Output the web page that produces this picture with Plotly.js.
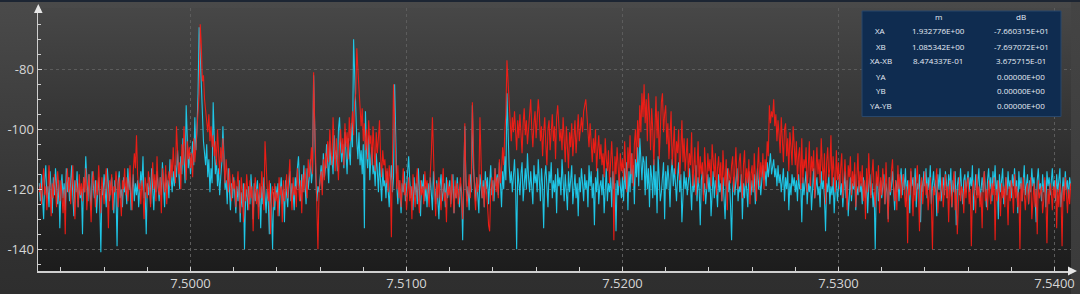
<!DOCTYPE html>
<html>
<head>
<meta charset="utf-8">
<script src="https://cdn.plot.ly/plotly-3.0.1.min.js"></script>
<style>
  html, body { margin:0; padding:0; background:#2f2f2f; overflow:hidden; }
  #wrap { position:relative; width:1080px; height:294px;
          background:linear-gradient(#4a4a4a 0%, #3c3c3c 45%, #313131 80%, #2e2e2e 100%);
          border-top:2px solid #1c2533; box-sizing:border-box; }
  #plotbg { position:absolute; left:38px; top:6px; width:1033px; height:263px;
            background:linear-gradient(#474747 0%, #363636 40%, #262626 75%, #1c1c1c 100%); }
  #strip { position:absolute; left:1071px; top:0; width:9px; height:294px;
           background:linear-gradient(#444 0%, #3a3a3a 100%); }
  #chart { position:absolute; left:0; top:-2px; width:1080px; height:294px; }
</style>
</head>
<body>
<div id="wrap">
  <div id="plotbg"></div>
  <div id="strip"></div>
  <div id="chart"></div>
</div>
<script>
// Frequency grid: first sample and spacing
const freqStart = 7.4930;
const freqStep = 0.00005;

// Trace A (red), dB
const traceA = [
-121,-118,-125,-116,-113,-122,-119,-127,-117,-112,-120,-129,-118,-123,-115,-121,-126,-114,-119,-124,
-117,-122,-128,-120,-135,-118,-113,-121,-116,-125,-119,-112,-123,-130,-117,-120,-126,-115,-122,-118,
-124,-116,-121,-113,-127,-119,-115,-123,-131,-118,-114,-120,-126,-117,-122,-112,-119,-128,-116,-121,
-125,-118,-113,-120,-133,-117,-122,-115,-127,-119,-121,-114,-118,-126,-116,-123,-129,-117,-120,-113,
-122,-116,-124,-119,-112,-121,-127,-114,-108,-113,-102,-115,-120,-118,-125,-117,-121,-130,-116,-119,
-123,-114,-118,-126,-117,-111,-120,-115,-124,-109,-119,-122,-116,-128,-113,-118,-121,-112,-125,-117,
-114,-119,-110,-116,-106,-113,-118,-99,-108,-115,-111,-120,-105,-112,-99,-109,-117,-104,-110,-106,
-113,-108,-116,-103,-111,-106,-100,-97,-88,-65,-72,-84,-82,-90,-93,-97,-101,-95,-104,-99,
-106,-102,-109,-104,-112,-100,-108,-115,-106,-111,-103,-113,-118,-110,-116,-121,-113,-119,-124,-115,
-120,-117,-126,-119,-114,-122,-128,-116,-121,-131,-118,-124,-115,-120,-127,-117,-123,-119,-134,-121,
-116,-125,-120,-130,-118,-123,-114,-121,-127,-104,-113,-119,-124,-117,-135,-122,-119,-126,-118,-124,
-121,-129,-116,-122,-119,-131,-117,-124,-120,-115,-123,-118,-110,-121,-127,-116,-122,-119,-126,-113,
-120,-124,-117,-128,-115,-121,-113,-118,-123,-110,-116,-112,-106,-115,-81,-98,-112,-124,-140,-121,
-118,-114,-122,-110,-117,-108,-113,-104,-111,-100,-107,-112,-96,-109,-114,-103,-110,-117,-105,-100,
-108,-103,-112,-98,-106,-101,-110,-96,-104,-99,-94,-102,-91,-88,-73,-80,-87,-95,-99,-93,
-104,-98,-107,-100,-110,-97,-105,-102,-112,-99,-106,-114,-101,-108,-103,-97,-109,-116,-107,-112,
-110,-118,-113,-121,-112,-117,-136,-104,-85,-98,-114,-120,-112,-123,-117,-126,-119,-113,-122,-118,
-127,-120,-116,-124,-119,-130,-115,-121,-126,-118,-113,-123,-128,-117,-122,-119,-125,-114,-120,-117,
-121,-126,-115,-108,-96,-112,-120,-129,-118,-123,-116,-122,-127,-119,-113,-124,-121,-131,-117,-122,
-119,-126,-115,-121,-128,-117,-123,-118,-125,-120,-116,-124,-130,-119,-98,-118,-126,-121,-115,-123,
-117,-91,-110,-122,-127,-116,-121,-118,-96,-114,-123,-119,-126,-117,-121,-125,-132,-134,-120,-116,
-124,-118,-113,-121,-116,-123,-110,-118,-114,-106,-112,-101,-95,-77,-84,-92,-98,-104,-96,-101,
-94,-99,-107,-97,-103,-95,-100,-108,-98,-93,-102,-97,-105,-99,-96,-90,-100,-106,-98,-94,
-103,-97,-90,-95,-104,-99,-109,-101,-96,-105,-112,-100,-97,-107,-102,-95,-104,-99,-110,-96,
-92,-98,-104,-100,-107,-96,-103,-111,-99,-105,-113,-101,-106,-98,-109,-103,-97,-108,-102,-95,
-104,-99,-96,-101,-94,-92,-90,-95,-100,-106,-98,-104,-111,-103,-108,-100,-114,-107,-102,-110,
-105,-112,-108,-116,-103,-110,-114,-107,-118,-111,-104,-113,-137,-109,-115,-106,-112,-119,-108,-114,
-110,-117,-104,-112,-121,-106,-113,-102,-115,-108,-119,-105,-100,-111,-97,-106,-92,-101,-88,-96,
-85,-98,-90,-104,-88,-95,-107,-93,-100,-112,-96,-89,-103,-94,-110,-99,-91,-88,-101,-95,
-92,-105,-98,-110,-101,-94,-112,-103,-99,-115,-104,-108,-100,-117,-106,-97,-111,-103,-114,-107,
-103,-116,-108,-112,-101,-119,-110,-106,-122,-113,-104,-118,-109,-115,-111,-124,-106,-113,-120,-108,
-114,-110,-119,-105,-112,-116,-108,-122,-113,-109,-117,-111,-124,-107,-115,-119,-110,-127,-113,-116,
-118,-112,-109,-121,-114,-106,-117,-120,-111,-108,-116,-123,-112,-107,-119,-113,-118,-110,-125,-115,
-112,-121,-108,-117,-124,-113,-106,-119,-111,-116,-108,-120,-110,-114,-104,-109,-92,-98,-94,-96,
-90,-99,-95,-104,-97,-102,-108,-96,-105,-111,-100,-98,-109,-103,-114,-101,-106,-112,-99,-108,
-112,-104,-117,-109,-106,-120,-103,-118,-110,-113,-106,-121,-110,-104,-119,-109,-114,-107,-123,-112,
-106,-115,-110,-118,-103,-112,-117,-108,-125,-111,-106,-116,-113,-102,-119,-109,-114,-121,-107,-117,
-111,-120,-113,-108,-123,-115,-110,-118,-127,-112,-116,-109,-122,-114,-119,-111,-126,-116,-108,-121,
-114,-119,-112,-124,-117,-130,-113,-121,-108,-118,-123,-115,-110,-120,-126,-114,-119,-112,-128,-116,
-122,-113,-118,-125,-111,-120,-131,-116,-121,-114,-110,-119,-124,-117,-127,-112,-120,-115,-123,-118,
-115,-121,-126,-119,-138,-117,-122,-113,-120,-129,-116,-124,-118,-112,-121,-134,-119,-116,-125,-120,
-114,-122,-118,-127,-120,-116,-125,-140,-119,-122,-117,-113,-128,-121,-124,-118,-116,-126,-120,-115,
-123,-119,-131,-117,-121,-126,-118,-114,-127,-120,-135,-122,-116,-124,-119,-121,-128,-117,-123,-118,
-116,-125,-120,-139,-121,-117,-122,-128,-115,-123,-119,-126,-121,-133,-118,-114,-124,-120,-127,-117,
-121,-125,-118,-122,-116,-137,-120,-124,-117,-121,-129,-118,-123,-119,-126,-116,-122,-132,-119,-124,
-117,-120,-128,-115,-123,-119,-126,-121,-140,-118,-124,-116,-122,-127,-120,-118,-125,-121,-116,-130,
-122,-118,-126,-120,-135,-117,-123,-121,-119,-128,-124,-116,-122,-138,-120,-125,-118,-121,-127,-119,
-123,-117,-133,-120,-126,-118,-122,-139,-119,-124,-116,-121,-128,-120,-125,-118
];

// Trace B (cyan), dB
const traceB = [
-118,-124,-115,-121,-130,-117,-112,-123,-119,-126,-114,-120,-128,-116,-122,-113,-119,-125,-117,-133,
-120,-115,-123,-118,-127,-113,-121,-116,-124,-119,-112,-122,-129,-117,-121,-114,-126,-118,-123,-120,
-135,-116,-121,-109,-118,-124,-115,-120,-127,-114,-119,-123,-117,-128,-121,-116,-125,-141,-119,-122,
-115,-120,-126,-113,-118,-124,-119,-116,-122,-128,-117,-121,-139,-118,-114,-123,-120,-126,-116,-121,
-119,-125,-113,-120,-116,-127,-121,-115,-124,-118,-122,-117,-126,-120,-114,-119,-109,-123,-121,-135,
-118,-122,-116,-125,-113,-120,-127,-117,-121,-114,-119,-124,-116,-122,-111,-118,-126,-115,-120,-117,
-123,-110,-118,-121,-114,-119,-112,-116,-107,-113,-120,-109,-115,-103,-111,-118,-92,-106,-113,-108,
-115,-110,-104,-112,-96,-107,-100,-88,-66,-75,-86,-100,-104,-108,-112,-105,-116,-110,-121,-113,
-118,-91,-106,-115,-110,-119,-113,-122,-116,-111,-99,-114,-120,-117,-125,-113,-121,-127,-118,-123,
-116,-122,-128,-119,-124,-117,-131,-121,-126,-118,-140,-123,-120,-127,-119,-125,-115,-122,-130,-118,
-124,-120,-117,-126,-121,-133,-119,-125,-116,-122,-128,-120,-124,-135,-118,-126,-140,-121,-127,-119,
-123,-118,-129,-121,-116,-125,-120,-131,-117,-122,-126,-119,-114,-124,-118,-121,-127,-116,-120,-113,
-109,-118,-124,-115,-121,-112,-117,-125,-113,-120,-116,-110,-118,-114,-82,-105,-116,-124,-119,-121,
-115,-112,-120,-108,-116,-113,-105,-111,-118,-104,-112,-109,-115,-102,-110,-107,-114,-100,-96,-106,
-111,-105,-113,-101,-109,-115,-103,-108,-112,-98,-106,-70,-84,-97,-104,-110,-101,-112,-107,-115,
-105,-133,-94,-108,-113,-102,-117,-110,-106,-115,-112,-119,-108,-114,-121,-111,-116,-124,-113,-119,
-117,-123,-114,-120,-126,-118,-112,-121,-116,-85,-110,-119,-125,-117,-122,-128,-118,-121,-114,-124,
-120,-115,-109,-117,-123,-119,-127,-116,-122,-118,-125,-113,-120,-129,-117,-121,-115,-124,-119,-126,
-118,-123,-116,-121,-127,-114,-120,-125,-117,-122,-130,-119,-115,-124,-121,-118,-126,-116,-123,-120,
-117,-125,-121,-115,-128,-119,-123,-116,-122,-126,-118,-121,-137,-120,-99,-117,-124,-119,-127,-115,
-121,-92,-113,-118,-124,-116,-121,-128,-115,-119,-123,-117,-126,-114,-120,-116,-125,-118,-112,-122,
-117,-124,-113,-119,-115,-122,-111,-118,-126,-114,-120,-109,-117,-88,-104,-112,-118,-114,-121,-116,
-110,-119,-140,-113,-118,-122,-115,-111,-124,-117,-113,-120,-108,-116,-121,-114,-119,-125,-112,-118,
-115,-121,-110,-117,-124,-113,-119,-133,-116,-112,-120,-126,-114,-118,-111,-123,-117,-121,-115,-128,
-113,-119,-116,-122,-110,-118,-124,-115,-120,-127,-114,-121,-117,-112,-125,-119,-115,-123,-118,-129,
-116,-121,-113,-118,-124,-115,-120,-117,-126,-112,-119,-114,-123,-118,-132,-116,-121,-113,-125,-119,
-117,-122,-115,-128,-119,-113,-124,-118,-121,-116,-126,-114,-120,-118,-134,-117,-122,-115,-119,-123,
-116,-124,-113,-120,-111,-127,-114,-121,-108,-118,-112,-125,-110,-116,-106,-119,-103,-113,-117,-109,
-111,-122,-109,-120,-113,-126,-112,-116,-123,-110,-122,-114,-128,-109,-117,-124,-121,-115,-111,-130,
-114,-120,-112,-117,-126,-115,-110,-119,-113,-118,-124,-116,-111,-121,-115,-131,-118,-114,-120,-116,
-122,-117,-113,-119,-127,-115,-121,-118,-112,-124,-116,-120,-132,-117,-114,-122,-118,-125,-119,-115,
-121,-116,-129,-119,-114,-123,-117,-120,-126,-115,-121,-118,-124,-116,-122,-130,-119,-113,-121,-117,
-125,-137,-120,-116,-122,-118,-113,-124,-119,-121,-115,-130,-118,-123,-116,-120,-126,-114,-119,-122,
-117,-121,-115,-125,-119,-113,-120,-116,-122,-118,-112,-117,-114,-119,-111,-116,-113,-108,-115,-112,
-110,-116,-113,-119,-112,-118,-115,-121,-117,-113,-124,-116,-120,-114,-127,-118,-122,-115,-119,-116,
-121,-117,-124,-115,-120,-118,-131,-116,-122,-119,-114,-125,-118,-121,-116,-127,-120,-113,-123,-118,
-116,-122,-119,-126,-114,-120,-117,-123,-134,-118,-121,-115,-125,-119,-122,-116,-128,-120,-117,-124,
-119,-115,-122,-118,-126,-120,-114,-123,-117,-129,-121,-116,-124,-118,-120,-115,-127,-119,-122,-117,
-121,-118,-125,-116,-120,-123,-117,-128,-119,-115,-122,-118,-126,-121,-140,-119,-116,-124,-120,-117,
-123,-119,-115,-125,-118,-121,-130,-116,-122,-119,-114,-120,-127,-117,-121,-115,-124,-118,-113,-122,
-115,-120,-113,-124,-117,-121,-128,-114,-119,-116,-122,-113,-126,-118,-120,-115,-131,-117,-121,-114,
-119,-113,-123,-116,-120,-112,-125,-118,-114,-121,-117,-129,-115,-120,-113,-124,-118,-116,-122,-114,
-118,-123,-115,-120,-113,-126,-117,-121,-114,-132,-119,-116,-122,-113,-120,-125,-117,-115,-121,-118,
-114,-121,-116,-119,-112,-127,-118,-115,-122,-117,-113,-124,-119,-116,-121,-114,-120,-126,-117,-113,
-120,-116,-124,-114,-119,-112,-122,-117,-130,-115,-121,-118,-113,-125,-119,-116,-122,-114,-120,-117,
-123,-115,-119,-113,-121,-117,-128,-114,-120,-116,-124,-119,-112,-122,-118,-115,-125,-117,-121,-113,
-119,-116,-122,-131,-117,-113,-120,-118,-124,-115,-121,-117,-126,-114,-119,-116,-122,-118,-113,-120,
-117,-124,-115,-121,-118,-113,-126,-119,-116,-122,-114,-120,-117,-123,-116,-119
];

// Axis ticks
const xTickVals = [7.50, 7.51, 7.52, 7.53, 7.54];
const xTickText = ['7.5000', '7.5100', '7.5200', '7.5300', '7.5400'];
const yTickVals = [-140, -120, -100, -80];
const yTickText = ['-140', '-120', '-100', '-80'];

// Marker table
const tableHeader = ['', 'm', 'dB'];
const tableRowNames = ['XA', 'XB', 'XA-XB', 'YA', 'YB', 'YA-YB'];
const tableM = ['1.932776E+00', '1.085342E+00', '8.474337E-01', '', '', ''];
const tableDB = ['-7.660315E+01', '-7.697072E+01', '3.675715E-01', '0.00000E+00', '0.00000E+00', '0.00000E+00'];

// ---- layout geometry (pixels) ----
const W = 1080, H = 294;
const M = {l: 38, r: 9, t: 8, b: 23};
const PW = W - M.l - M.r, PH = H - M.t - M.b;
const px = x => (x - M.l) / PW;
const py = y => (H - M.b - y) / PH;

const traces = [
  {type: 'scatter', mode: 'lines', x0: freqStart, dx: freqStep, y: traceB,
   line: {color: '#1fc6e6', width: 1.1}, hoverinfo: 'skip', showlegend: false},
  {type: 'scatter', mode: 'lines', x0: freqStart, dx: freqStep, y: traceA,
   line: {color: '#ff1c14', width: 1.1}, opacity: 0.9, hoverinfo: 'skip', showlegend: false}
];

const annotations = [];
const colX = [880.5, 938, 1021];
const rowY = [16, 31, 46, 61, 76, 90.5, 106];
const tfont = {family: 'Open Sans, Noto Sans, sans-serif', size: 8, color: '#e6edf5'};
function addText(t, x, y) {
  if (!t) return;
  annotations.push({text: t, x: px(x), y: py(y), xref: 'paper', yref: 'paper',
    xanchor: 'center', yanchor: 'middle', showarrow: false, font: tfont});
}
tableHeader.forEach((t, j) => addText(t, colX[j], rowY[0]));
tableRowNames.forEach((t, i) => {
  addText(t, colX[0], rowY[i + 1]);
  addText(tableM[i], colX[1], rowY[i + 1]);
  addText(tableDB[i], colX[2], rowY[i + 1]);
});

const shapes = [
  {type: 'rect', xref: 'paper', yref: 'paper', x0: px(862), x1: px(1061), y0: py(116.5), y1: py(11),
   fillcolor: '#0f2c50', line: {color: '#29476b', width: 1}, layer: 'above'},
  {type: 'path', xref: 'paper', yref: 'paper',
   path: `M ${px(34)} ${py(13)} L ${px(38.3)} ${py(4)} L ${px(42.6)} ${py(13)} Z`,
   fillcolor: '#e6e6e6', line: {width: 0}, layer: 'above'},
  {type: 'path', xref: 'paper', yref: 'paper',
   path: `M ${px(1068)} ${py(266.5)} L ${px(1077)} ${py(271)} L ${px(1068)} ${py(275.5)} Z`,
   fillcolor: '#e6e6e6', line: {width: 0}, layer: 'above'}
];

const axisFont = {family: 'Open Sans, Noto Sans, sans-serif', size: 13, color: '#d6d6d6'};

const layout = {
  width: W, height: H,
  margin: M,
  paper_bgcolor: 'rgba(0,0,0,0)',
  plot_bgcolor: 'rgba(0,0,0,0)',
  showlegend: false,
  xaxis: {
    range: [7.5 + (M.l - 190.5) / 21600, 7.5 + (W - M.r - 190.5) / 21600],
    tickvals: xTickVals, ticktext: xTickText,
    showgrid: true, gridcolor: '#5c5c5c', griddash: 'dot', gridwidth: 1,
    zeroline: false, showline: true, linecolor: '#cfcfcf', linewidth: 1.5,
    ticks: 'inside', ticklen: 4, tickcolor: '#cfcfcf', tickwidth: 1,
    minor: {dtick: 0.002, tick0: 7.5, ticks: 'inside', ticklen: 4, tickcolor: '#cfcfcf', showgrid: false},
    tickfont: axisFont, fixedrange: true
  },
  yaxis: {
    range: [-80 - (H - M.b - 69.3) / 3, -80 + (69.3 - M.t) / 3],
    tickvals: yTickVals, ticktext: yTickText,
    showgrid: true, gridcolor: '#5c5c5c', griddash: 'dot', gridwidth: 1,
    zeroline: false, showline: true, linecolor: '#cfcfcf', linewidth: 1.5,
    ticks: 'inside', ticklen: 4, tickcolor: '#cfcfcf', tickwidth: 1,
    minor: {dtick: 5, tick0: 0, ticks: 'inside', ticklen: 3, tickcolor: '#cfcfcf', showgrid: false},
    tickfont: axisFont, fixedrange: true
  },
  shapes: shapes,
  annotations: annotations
};

Plotly.newPlot('chart', traces, layout, {staticPlot: true, displayModeBar: false});
</script>
</body>
</html>
